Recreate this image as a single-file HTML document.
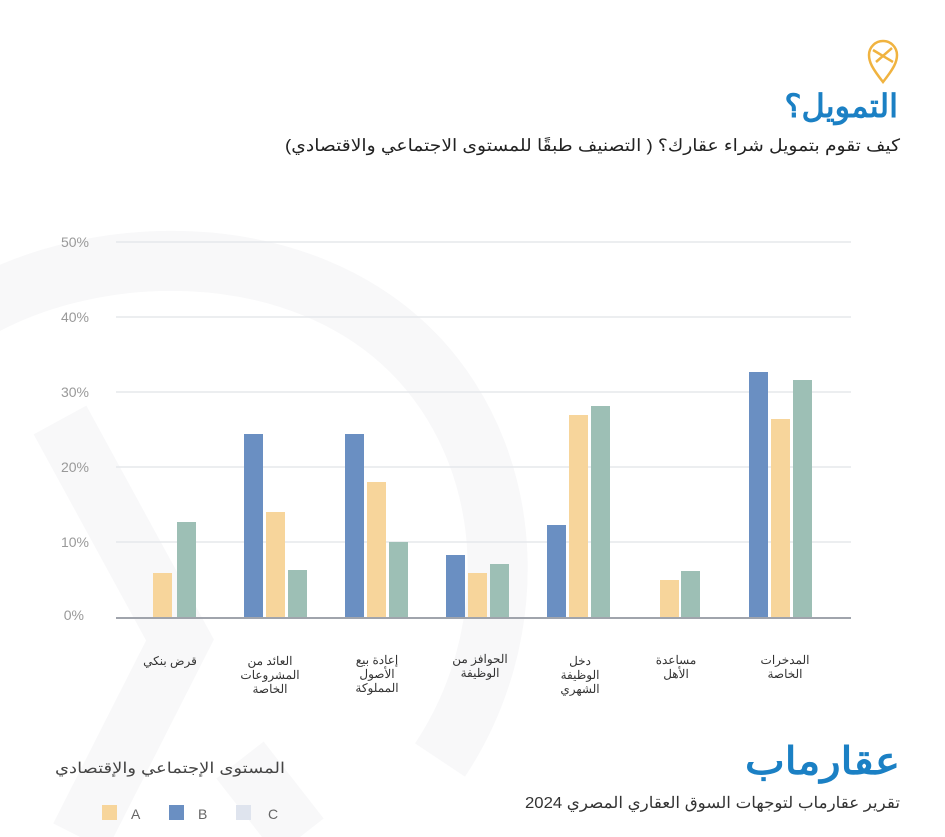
<!DOCTYPE html>
<html><head><meta charset="utf-8"><style>
body{margin:0;background:#fff}
svg{display:block}
text{font-family:"Liberation Sans","Noto Sans CJK SC",sans-serif}
</style></head><body>
<svg width="945" height="837" viewBox="0 0 945 837">
<!-- watermark -->
<g fill="none" stroke="#f8f8f9" stroke-width="60">
<path d="M-40 320 C80 240 300 230 420 360 C520 470 520 640 440 760"/>
<path d="M60 420 L180 640 L80 837"/>
<path d="M240 760 L300 837"/>
</g>
<!-- logo pin -->
<g fill="none" stroke="#f0b340" stroke-width="2.5">
<path d="M883 82 C872 68 869 62 869 55 A14 14 0 0 1 897 55 C897 62 894 68 883 82 Z"/>
<path d="M873 50 L893 62 M876 62 L892 48"/>
</g>
<text x="898" y="117" text-anchor="end" font-size="32" font-weight="bold" fill="#1b80c4">التمويل؟</text>
<text x="285" y="151" textLength="615" lengthAdjust="spacingAndGlyphs" font-size="17" fill="#222">كيف تقوم بتمويل شراء عقارك؟ ( التصنيف طبقًا للمستوى الاجتماعي والاقتصادي)</text>
<!-- grid -->
<g stroke="#e6e8ec" stroke-width="1.5">
<line x1="116" y1="242" x2="851" y2="242"/>
<line x1="116" y1="317" x2="851" y2="317"/>
<line x1="116" y1="392" x2="851" y2="392"/>
<line x1="116" y1="467" x2="851" y2="467"/>
<line x1="116" y1="542" x2="851" y2="542"/>
</g>
<g font-size="14" fill="#999" text-anchor="end">
<text x="89" y="247">50%</text><text x="89" y="322">40%</text><text x="89" y="397">30%</text>
<text x="89" y="472">20%</text><text x="89" y="547">10%</text><text x="84" y="620">0%</text>
</g>
<!-- bars -->
<g>
<rect x="153" y="573" width="19" height="44" fill="#f7d59b"/>
<rect x="177" y="522" width="19" height="95" fill="#9dbfb5"/>
<rect x="244" y="434" width="19" height="183" fill="#6a8fc2"/>
<rect x="266" y="512" width="19" height="105" fill="#f7d59b"/>
<rect x="288" y="570" width="19" height="47" fill="#9dbfb5"/>
<rect x="345" y="434" width="19" height="183" fill="#6a8fc2"/>
<rect x="367" y="482" width="19" height="135" fill="#f7d59b"/>
<rect x="389" y="542" width="19" height="75" fill="#9dbfb5"/>
<rect x="446" y="555" width="19" height="62" fill="#6a8fc2"/>
<rect x="468" y="573" width="19" height="44" fill="#f7d59b"/>
<rect x="490" y="564" width="19" height="53" fill="#9dbfb5"/>
<rect x="547" y="525" width="19" height="92" fill="#6a8fc2"/>
<rect x="569" y="415" width="19" height="202" fill="#f7d59b"/>
<rect x="591" y="406" width="19" height="211" fill="#9dbfb5"/>
<rect x="660" y="580" width="19" height="37" fill="#f7d59b"/>
<rect x="681" y="571" width="19" height="46" fill="#9dbfb5"/>
<rect x="749" y="372" width="19" height="245" fill="#6a8fc2"/>
<rect x="771" y="419" width="19" height="198" fill="#f7d59b"/>
<rect x="793" y="380" width="19" height="237" fill="#9dbfb5"/>
</g>
<line x1="116" y1="618" x2="851" y2="618" stroke="#a0a4ac" stroke-width="2"/>
<!-- labels -->
<g font-size="12" fill="#333" text-anchor="middle">
<text x="170" y="665">قرض بنكي</text>
<text x="270" y="665">العائد من</text><text x="270" y="679">المشروعات</text><text x="270" y="693">الخاصة</text>
<text x="377" y="664">إعادة بيع</text><text x="377" y="678">الأصول</text><text x="377" y="692">المملوكة</text>
<text x="480" y="663">الحوافز من</text><text x="480" y="677">الوظيفة</text>
<text x="580" y="665">دخل</text><text x="580" y="679">الوظيفة</text><text x="580" y="693">الشهري</text>
<text x="676" y="664">مساعدة</text><text x="676" y="678">الأهل</text>
<text x="785" y="664">المدخرات</text><text x="785" y="678">الخاصة</text>
</g>
<!-- brand -->
<text x="745" y="774" textLength="155" lengthAdjust="spacingAndGlyphs" font-size="38" font-weight="bold" fill="#1b80c4">عقارماب</text>
<text x="525" y="808" textLength="375" lengthAdjust="spacingAndGlyphs" font-size="16" fill="#333">تقرير عقارماب لتوجهات السوق العقاري المصري 2024</text>
<!-- legend -->
<text x="55" y="773" textLength="230" lengthAdjust="spacingAndGlyphs" font-size="15" fill="#444">المستوى الإجتماعي والإقتصادي</text>
<rect x="102" y="805" width="15" height="15" fill="#f7d59b"/>
<text x="131" y="819" font-size="14" fill="#666">A</text>
<rect x="169" y="805" width="15" height="15" fill="#6a8fc2"/>
<text x="198" y="819" font-size="14" fill="#666">B</text>
<rect x="236" y="805" width="15" height="15" fill="#dfe4ee"/>
<text x="268" y="819" font-size="14" fill="#666">C</text>
</svg>
</body></html>
